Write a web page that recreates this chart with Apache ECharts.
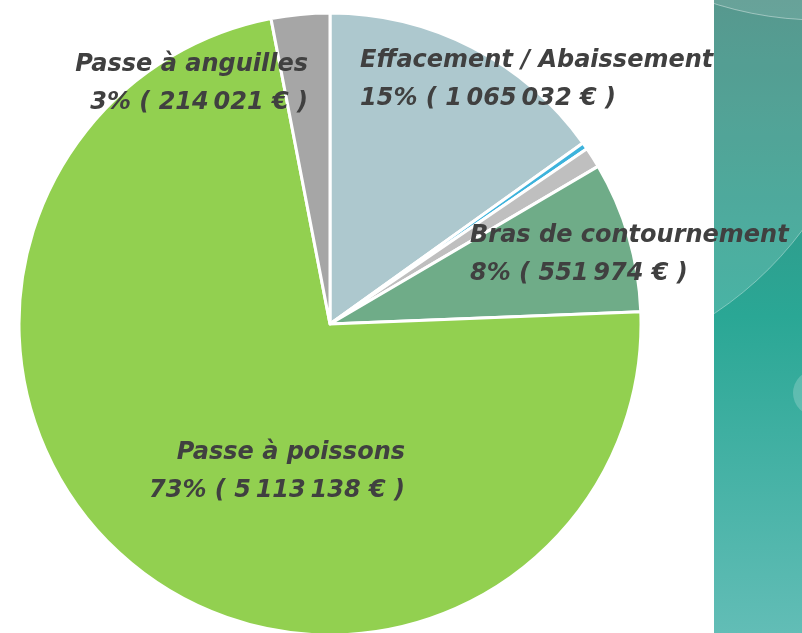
<!DOCTYPE html>
<html>
<head>
<meta charset="utf-8">
<script src="https://cdn.jsdelivr.net/npm/echarts@6/dist/echarts.min.js"></script>
<style>
  html, body { margin: 0; padding: 0; background: #fff; }
  #chart { width: 802px; height: 633px; }
</style>
</head>
<body>
<div id="chart"></div>
<script>
// catégories et montants (€)
var names = ['Effacement / Abaissement', 'Autre (1)', 'Autre (2)', 'Bras de contournement', 'Passe à poissons', 'Passe à anguilles'];
var amounts = [1065032, 25000, 75000, 551974, 5113138, 214021];
var colors = ['#adc8ce', '#3db3dc', '#bfbfbf', '#6fac88', '#92d050', '#a6a6a6'];
var showLabel = [true, false, false, true, true, true];

// emplacement des étiquettes (comme dans Excel)
var labelPos = [
  { x: 360, y: 80, align: 'left' },
  null,
  null,
  { x: 470, y: 255, align: 'left' },
  { x: 405, y: 472, align: 'right' },
  { x: 308, y: 84, align: 'right' }
];

function fmt(v) {
  return String(v).replace(/\B(?=(\d{3})+(?!\d))/g, '\u2009');
}

var chart = echarts.init(document.getElementById('chart'));

chart.setOption({
  animation: false,
  backgroundColor: '#fff',
  graphic: [
    {
      type: 'rect', z: -20, silent: true,
      shape: { x: 714, y: 0, width: 88, height: 633 },
      style: {
        fill: new echarts.graphic.LinearGradient(0, 0, 0, 1, [
          { offset: 0, color: '#3a877b' },
          { offset: 0.5, color: '#2aa795' },
          { offset: 1, color: '#62bdb6' }
        ])
      }
    },
    {
      type: 'circle', z: -19, silent: true,
      shape: { cx: 520, cy: 20, r: 352 },
      style: { fill: 'rgba(255,255,255,0.15)', stroke: 'rgba(255,255,255,0.35)', lineWidth: 1 }
    },
    {
      type: 'circle', z: -18, silent: true,
      shape: { cx: 820, cy: -330, r: 350 },
      style: { fill: 'rgba(255,255,255,0.1)', stroke: 'rgba(255,255,255,0.4)', lineWidth: 1 }
    },
    {
      type: 'circle', z: -18, silent: true,
      shape: { cx: 816, cy: 393, r: 23 },
      style: { fill: 'rgba(255,255,255,0.2)' }
    },
    {
      type: 'rect', z: -10, silent: true,
      shape: { x: 0, y: 0, width: 714, height: 633 },
      style: { fill: '#fff' }
    }
  ],
  series: [{
    type: 'pie',
    center: [330, 324],
    radius: 311,
    startAngle: 90,
    clockwise: true,
    itemStyle: { borderColor: '#fff', borderWidth: 3 },
    label: {
      show: true,
      position: 'inside',
      color: '#404040',
      fontFamily: 'DejaVu Sans',
      fontStyle: 'italic',
      fontWeight: 'bold',
      fontSize: 24,
      lineHeight: 38,
      formatter: function (p) {
        return p.name + '\n' + Math.round(p.percent) + '% ( ' + fmt(p.value) + ' € )';
      }
    },
    labelLine: { show: false },
    labelLayout: function (p) {
      var lp = labelPos[p.dataIndex];
      if (!lp) return {};
      return { x: lp.x, y: lp.y, align: lp.align, verticalAlign: 'middle' };
    },
    data: names.map(function (n, i) {
      return {
        name: n,
        value: amounts[i],
        itemStyle: { color: colors[i] },
        label: { show: showLabel[i] }
      };
    })
  }]
});
</script>
</body>
</html>
